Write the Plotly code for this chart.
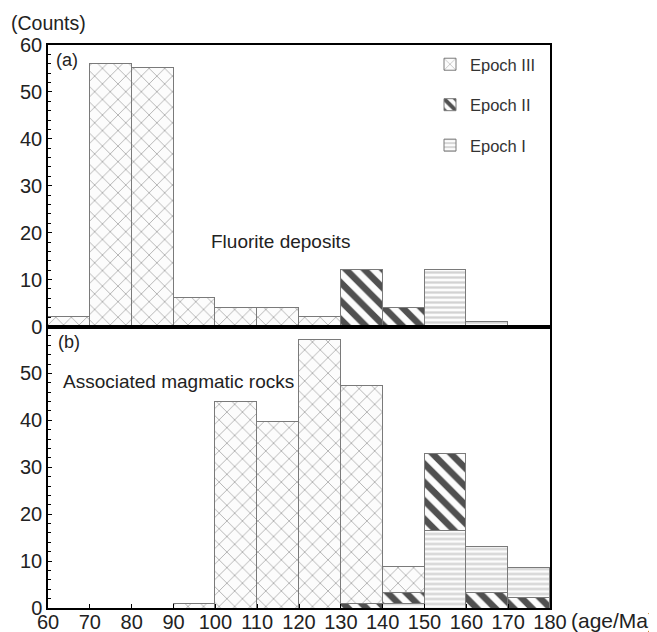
import plotly.graph_objects as go
from plotly.subplots import make_subplots

# ---------------- data ----------------
bin_left = [60, 70, 80, 90, 100, 110, 120, 130, 140, 150, 160, 170]
bin_width = 10

# (a) Fluorite deposits
fluorite_III = [2, 56, 55, 6, 4, 4, 2, None, None, None, None, None]
fluorite_II = [None, None, None, None, None, None, None, 12, 4, None, None, None]
fluorite_I = [None, None, None, None, None, None, None, None, None, 12, 1, None]

# (b) Associated magmatic rocks (stack segments, bottom to top)
magmatic_II_lower = [None, None, None, None, None, None, None, None, None, None, 3.3, 2.2]
magmatic_I = [None, None, None, None, None, None, None, None, 1, 16.5, 9.8, 6.4]
magmatic_II_upper = [None, None, None, None, None, None, None, 1, 2.3, 16.5, None, None]
magmatic_III = [None, None, None, 1, 44, 39.7, 57.3, 46.4, 5.5, None, None, None]

x_ticks = [60, 70, 80, 90, 100, 110, 120, 130, 140, 150, 160, 170, 180]
y_ticks_top = [0, 10, 20, 30, 40, 50, 60]
y_ticks_bottom = [0, 10, 20, 30, 40, 50]

# ---------------- styles ----------------
FONT = "Liberation Sans, Arial, sans-serif"
OFF = 8                      # default page body margin
W, H = 657 - OFF, 632 - OFF
ML, MR, MT, MB = 40, 107, 37, 24
PW, PH = W - ML - MR, H - MT - MB

def px_x(px):                # page pixel -> paper
    return (px - OFF - ML) / PW

def px_y(py):
    return (H - MB - (py - OFF)) / PH

edge = dict(color="#7a7a7a", width=1)
BG = "#fcfcfc"
styles = {
    "III": dict(color=BG, line=edge,
                pattern=dict(shape="x", fgcolor="#ababab", bgcolor=BG, fgopacity=1,
                             size=11, solidity=0.15)),
    "II": dict(color=BG, line=edge,
               pattern=dict(shape="\\", fgcolor="#505050", bgcolor=BG, fgopacity=1,
                            size=13, solidity=0.5)),
    "I": dict(color=BG, line=edge,
              pattern=dict(shape="-", fgcolor="#d2d2d2", bgcolor=BG, fgopacity=1,
                           size=5, solidity=0.45)),
}
names = {"III": "Epoch III", "II": "Epoch II", "I": "Epoch I"}

fig = make_subplots(rows=2, cols=1, shared_xaxes=True, vertical_spacing=0)

def add(vals, key, row, show):
    fig.add_trace(go.Bar(
        x=bin_left, y=vals, width=bin_width, offset=0,
        name=names[key], legendgroup=key, showlegend=show,
        marker=styles[key], hoverinfo="skip",
    ), row=row, col=1)

# top panel (legend entries in order III, II, I)
add(fluorite_III, "III", 1, True)
add(fluorite_II, "II", 1, True)
add(fluorite_I, "I", 1, True)
# bottom panel
add(magmatic_II_lower, "II", 2, False)
add(magmatic_I, "I", 2, False)
add(magmatic_II_upper, "II", 2, False)
add(magmatic_III, "III", 2, False)

axis_common = dict(showgrid=False, zeroline=False, linecolor="black", linewidth=1.5,
                   automargin=False,
                   tickfont=dict(family=FONT, size=20, color="#222"),
                   ticks="inside", tickcolor="black", ticklen=4)

fig.update_xaxes(range=[60, 180], tickvals=x_ticks, mirror=True,
                 ticklabelstandoff=-5, **axis_common)
fig.update_xaxes(showticklabels=False, ticks="", row=1, col=1)
fig.update_yaxes(range=[0, 60], mirror=True,
                 minor=dict(dtick=2, ticks="inside", ticklen=3, tickcolor="black"),
                 **axis_common)
fig.update_yaxes(tickvals=y_ticks_top, row=1, col=1)
fig.update_yaxes(tickvals=y_ticks_bottom, row=2, col=1)

annotations = [
    dict(text="(Counts)", x=px_x(9), y=px_y(23), xanchor="left", yanchor="middle", size=19.5),
    dict(text="(a)", x=px_x(54), y=px_y(60), xanchor="left", yanchor="middle", size=18),
    dict(text="(b)", x=px_x(56), y=px_y(342), xanchor="left", yanchor="middle", size=18),
    dict(text="Fluorite deposits", x=px_x(209), y=px_y(241), xanchor="left", yanchor="middle"),
    dict(text="Associated magmatic rocks", x=px_x(61), y=px_y(381), xanchor="left", yanchor="middle"),
    dict(text="(age/Ma)", x=px_x(569), y=px_y(620), xanchor="left", yanchor="middle", size=21),
]
for a in annotations:
    size = a.pop("size", 19)
    fig.add_annotation(xref="paper", yref="paper", showarrow=False,
                       font=dict(family=FONT, size=size, color="#222"), **a)

fig.update_layout(
    width=W, height=H,
    margin=dict(l=ML, r=MR, t=MT, b=MB, autoexpand=False),
    barmode="stack",
    bargap=0,
    plot_bgcolor="white", paper_bgcolor="white",
    legend=dict(x=px_x(430), y=px_y(47), xanchor="left", yanchor="top",
                traceorder="grouped", tracegroupgap=16,
                font=dict(family=FONT, size=16.5, color="#333"),
                bgcolor="rgba(0,0,0,0)"),
)

fig.write_html("out.html")
